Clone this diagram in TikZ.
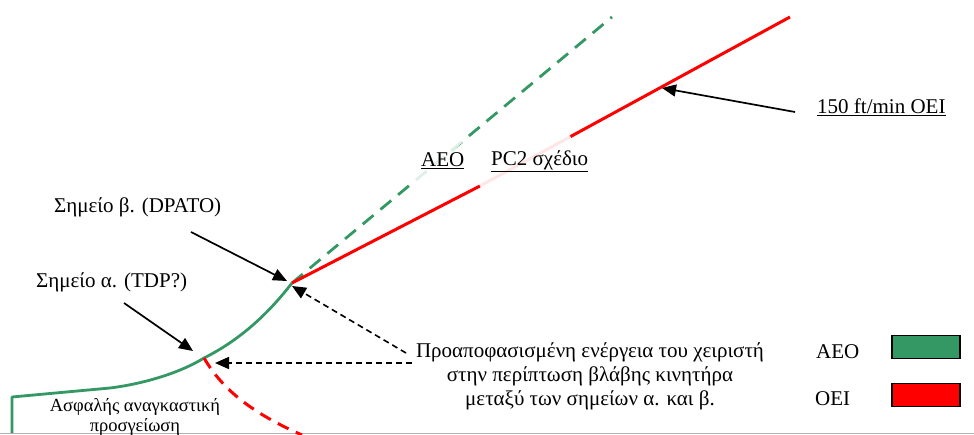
\documentclass[tikz,border=0pt]{standalone}
\usepackage{fontspec}
\setmainfont{Liberation Serif}
\usetikzlibrary{arrows.meta}
\definecolor{aeogreen}{RGB}{52,152,100}
\definecolor{oeired}{RGB}{255,0,0}
\begin{document}
\begin{tikzpicture}[x=1pt,y=-1pt,
  lbl/.style={inner sep=0pt,font=\fontsize{21}{25}\selectfont},
  smalllbl/.style={inner sep=0pt,align=center,font=\fontsize{18.5}{20}\selectfont},
  ptr/.style={black,line width=1.7pt,-{Triangle[length=14pt,width=12pt]}},
  dptr/.style={black,line width=1.6pt,dash pattern=on 6pt off 4pt,-{Triangle[length=14pt,width=12pt]}},
  aeo/.style={aeogreen,line width=2.8pt},
  oei/.style={oeired,line width=3pt},
  legbox/.style={draw=black,line width=1.5pt,minimum width=68pt,minimum height=23pt,inner sep=0pt}]
\useasboundingbox (0,0) rectangle (974,435);
\fill[white] (0,0) rectangle (974,435);
\draw[gray!60,line width=1pt] (0,433.5) -- (974,433.5);

% key points
\coordinate (start) at (12,433);
\coordinate (corner) at (12,397);
\coordinate (alpha) at (204,358);
\coordinate (beta) at (292,283);
\coordinate (aeoend) at (612,17);
\coordinate (oeimid) at (478,187);
\coordinate (oeiend) at (790,17);
\coordinate (oeitip) at (662,88);
\coordinate (crash) at (302,435);

% AEO solid path
\draw[aeo,line join=round] (start) -- (corner) -- (110,388)
  .. controls (150,383) and (185,370) .. (alpha)
  .. controls (240,340) and (268,314) .. (beta);
% AEO dashed continuation
\draw[aeo,dash pattern=on 14pt off 9pt] (beta) -- (aeoend);
\draw[white,opacity=0.85,line width=6pt] (415,182) -- (465,136);
% OEI solid
\draw[oei] (beta) -- (oeimid) -- (oeiend);
\draw[white,opacity=0.9,line width=6pt] (480,186) -- (570,136);
% OEI dashed after alpha
\draw[oei,dash pattern=on 12pt off 8pt] (alpha) .. controls (220,385) and (245,410) .. (crash);

% labels
\node[lbl,anchor=west] (lblB) at (54,207) {Σημείο β. (DPATO)};
\node[lbl,anchor=west] (lblA) at (36,282) {Σημείο α. (TDP?)};
\node[lbl,anchor=west] (lblAEO) at (421,161) {\underline{AEO}};
\node[lbl,anchor=west] (lblPC) at (491,161) {\underline{PC2 σχέδιο}};
\node[lbl,anchor=west] (lbl150) at (817,107) {\underline{150 ft/min OEI}};
\node[lbl,align=center,font=\fontsize{21}{24}\selectfont] (action) at (590,376)
  {Προαποφασισμένη ενέργεια του χειριστή\\ στην περίπτωση βλάβης κινητήρα\\ μεταξύ των σημείων α. και β.};
\node[smalllbl] (landing) at (135,417) {Ασφαλής αναγκαστική\\ προσγείωση};

% pointers
\coordinate (bTail) at (191,232);
\coordinate (aTail) at (124,303);
\coordinate (oTail) at (795,112);
\coordinate (dTail1) at (406,353);
\coordinate (dTail2) at (412,363);
\draw[ptr] (bTail) -- (287,281);
\draw[ptr] (aTail) -- (193,351);
\draw[ptr] (oTail) -- (oeitip);
\draw[dptr] (dTail1) -- (292,286);
\draw[dptr] (dTail2) -- (215,363);

% legend
\node[lbl,anchor=west] (legAEO) at (816,352) {AEO};
\node[legbox,fill=aeogreen,anchor=west] (boxAEO) at (891,347) {};
\node[lbl,anchor=west] (legOEI) at (815,399) {OEI};
\node[legbox,fill=oeired,anchor=west] (boxOEI) at (891,395) {};
\end{tikzpicture}
\end{document}
